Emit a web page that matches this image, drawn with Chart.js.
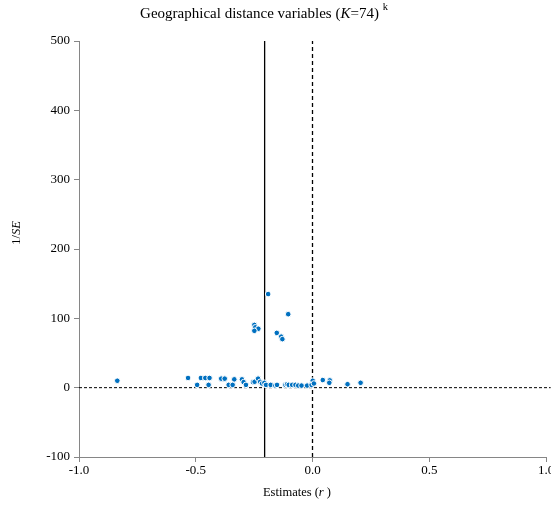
<!DOCTYPE html>
<html>
<head>
<meta charset="utf-8">
<script src="https://cdn.jsdelivr.net/npm/chart.js@4"></script>
<style>
  html, body { margin: 0; padding: 0; background: #fff; }
  #wrap { width: 551px; height: 508px; }
</style>
</head>
<body>
<div id="wrap"><canvas id="funnel"></canvas></div>
<script>
// estimates (r) and precision (1/SE)
const estimates = [
  -0.836, -0.533, -0.494, -0.478, -0.459, -0.441, -0.445, -0.391, -0.376,
  -0.359, -0.342, -0.335, -0.302, -0.295, -0.285, -0.255, -0.248, -0.233,
  -0.224, -0.216, -0.206, -0.199, -0.179, -0.159, -0.152, -0.116, -0.109,
  -0.102, -0.087, -0.073, -0.061, -0.047, -0.023, -0.004, 0.001, 0.006,
  0.044, 0.074, 0.072, 0.150, 0.206,
  -0.190, -0.104, -0.249, -0.245, -0.232, -0.249, -0.153, -0.134, -0.129
];
const inverseSE = [
  10, 14, 4, 14, 14, 14, 4, 13, 13,
  4, 4, 12, 12, 8, 4, 8, 8.5, 13,
  8.5, 6, 7, 4, 4, 3, 4, 4, 5,
  4, 4, 4, 3, 3, 3, 4, 10, 6,
  11, 10.5, 7, 5, 7,
  135, 106, 90.5, 87, 85, 82, 79, 73.6, 70
];
const pooledEstimate = -0.205;
const nullEffect = 0;
const xTicks = [-1.0, -0.5, 0.0, 0.5, 1.0];
const yTicks = [-100, 0, 100, 200, 300, 400, 500];

const serif = "'Liberation Serif', 'Times New Roman', serif";
const axisGray = '#868686';

const points = estimates.map((x, i) => ({ x: x, y: inverseSE[i] }));

// draws runs of text with mixed italic / superscript parts
function drawRuns(ctx, runs, cx, cy, size) {
  const fontFor = (r) =>
    (r.italic ? 'italic ' : '') + (r.sup ? size * 0.7 : size) + 'px ' + serif;
  let total = 0;
  runs.forEach((r) => {
    ctx.font = fontFor(r);
    total += ctx.measureText(r.text).width;
  });
  let x = cx - total / 2;
  runs.forEach((r) => {
    ctx.font = fontFor(r);
    ctx.fillText(r.text, x, r.sup ? cy - size * 0.45 : cy);
    x += ctx.measureText(r.text).width;
  });
}

const labelsPlugin = {
  id: 'labelsPlugin',
  afterDraw(chart) {
    const ctx = chart.ctx;
    ctx.save();
    ctx.fillStyle = '#000';
    ctx.textBaseline = 'middle';
    ctx.textAlign = 'left';
    drawRuns(ctx, [
      { text: 'Geographical distance variables (' },
      { text: 'K', italic: true },
      { text: '=74) ' },
      { text: 'k', sup: true },
    ], 264, 14, 15);
    drawRuns(ctx, [
      { text: 'Estimates (' },
      { text: 'r', italic: true },
      { text: ' )' },
    ], 297, 493, 12.5);
    ctx.translate(17, 233);
    ctx.rotate(-Math.PI / 2);
    drawRuns(ctx, [
      { text: '1/' },
      { text: 'SE', italic: true },
    ], 0, 0, 12.5);
    ctx.restore();
  },
};

new Chart(document.getElementById('funnel'), {
  type: 'scatter',
  data: {
    datasets: [
      {
        label: 'zero line',
        type: 'line',
        data: [{ x: -1, y: 0 }, { x: 1.02, y: 0 }],
        borderColor: '#000',
        borderWidth: 1,
        borderDash: [3, 2],
        pointRadius: 0,
        order: 3,
      },
      {
        label: 'pooled',
        type: 'line',
        data: [{ x: pooledEstimate, y: -100 }, { x: pooledEstimate, y: 500 }],
        borderColor: '#000',
        borderWidth: 1.3,
        pointRadius: 0,
        order: 2,
      },
      {
        label: 'null',
        type: 'line',
        data: [{ x: nullEffect, y: -100 }, { x: nullEffect, y: 500 }],
        borderColor: '#000',
        borderWidth: 1.3,
        borderDash: [4, 3],
        pointRadius: 0,
        order: 2,
      },
      {
        label: 'studies',
        data: points,
        backgroundColor: '#0070C0',
        borderColor: '#ffffff',
        borderWidth: 1,
        pointRadius: 2.8,
        order: 1,
      },
    ],
  },
  options: {
    responsive: true,
    maintainAspectRatio: false,
    animation: false,
    clip: false,
    layout: { padding: { top: 41, right: 5, left: 0, bottom: 0 } },
    plugins: {
      legend: { display: false },
      tooltip: { enabled: false },
      title: { display: false },
    },
    scales: {
      x: {
        type: 'linear',
        min: -1,
        max: 1,
        afterBuildTicks: (scale) => {
          scale.ticks = xTicks.map((v) => ({ value: v }));
        },
        afterFit: (scale) => {
          scale.height = 51;
          scale.paddingLeft = 0;
          scale.paddingRight = 0;
        },
        ticks: {
          color: '#000',
          font: { family: serif, size: 13 },
          padding: 1,
          maxRotation: 0,
          callback: (v) => v.toFixed(1),
        },
        grid: {
          drawOnChartArea: false,
          drawTicks: true,
          tickLength: 5,
          tickColor: axisGray,
        },
        border: { color: axisGray, width: 1 },
      },
      y: {
        type: 'linear',
        min: -100,
        max: 500,
        afterBuildTicks: (scale) => {
          scale.ticks = yTicks.map((v) => ({ value: v }));
        },
        afterFit: (scale) => {
          scale.width = 79;
          scale.paddingTop = 0;
          scale.paddingBottom = 0;
        },
        ticks: {
          color: '#000',
          font: { family: serif, size: 13 },
          padding: 4,
        },
        grid: {
          drawOnChartArea: false,
          drawTicks: true,
          tickLength: 5,
          tickColor: axisGray,
        },
        border: { color: axisGray, width: 1 },
      },
    },
  },
  plugins: [labelsPlugin],
});
</script>
</body>
</html>
